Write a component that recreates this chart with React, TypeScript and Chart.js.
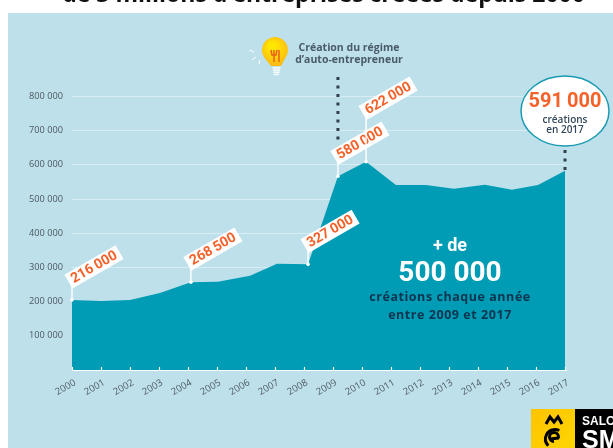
import React, { useEffect, useRef } from "react";
import { Chart, registerables } from "chart.js";

Chart.register(...registerables);

const years = [2000, 2001, 2002, 2003, 2004, 2005, 2006, 2007, 2008, 2009, 2010, 2011, 2012, 2013, 2014, 2015, 2016, 2017];
const pointDates = [2000, 2001, 2002, 2003.03, 2004.1, 2005.03, 2006.14, 2007.07, 2008.14, 2009.17, 2010.14, 2011.17, 2012.2, 2013.17, 2014.24, 2015.17, 2016.07, 2017];
const creations = [205000, 202000, 205000, 225000, 257000, 258000, 276000, 311000, 309000, 567000, 609000, 541000, 541000, 530000, 542000, 527000, 541000, 583000];

const calloutIndex = [0, 4, 8, 9, 10];
const calloutLabels = ["216\u2009000", "268\u2009500", "327\u2009000", "580\u2009000", "622\u2009000"];
const titleText = "de 3 millions d’entreprises créées depuis 2000";
const noteLines = ["Création du régime", "d’auto-entrepreneur"];
const bubbleLines = ["591\u2009000", "créations", "en 2017"];
const centerLines = ["+ de", "500 000", "créations chaque année", "entre 2009 et 2017"];

const PANEL = "#bde0ea";
const AREA = "#009bb4";
const ORANGE = "#f4622a";
const DOTS = "#2f3f4c";

function text(c: CanvasRenderingContext2D, s: string, x: number, y: number, font: string, color: string, align: CanvasTextAlign = "center", spacing = "0px") {
  c.font = font;
  c.fillStyle = color;
  c.textAlign = align;
  c.textBaseline = "middle";
  (c as any).letterSpacing = spacing;
  c.fillText(s, x, y);
  (c as any).letterSpacing = "0px";
}

function dotted(c: CanvasRenderingContext2D, x: number, y0: number, y1: number) {
  c.save();
  c.strokeStyle = DOTS;
  c.lineWidth = 3;
  c.setLineDash([3, 5.5]);
  c.beginPath();
  c.moveTo(x, y0);
  c.lineTo(x, y1);
  c.stroke();
  c.restore();
}

function drawBulb(c: CanvasRenderingContext2D) {
  c.save();
  const g = c.createRadialGradient(272, 46, 3, 275, 50, 15);
  g.addColorStop(0, "#ffe800");
  g.addColorStop(1, "#fdbb13");
  c.fillStyle = g;
  c.beginPath();
  c.arc(275, 50, 13, Math.PI * 0.8, Math.PI * 0.2);
  c.lineTo(281, 66);
  c.lineTo(271, 66);
  c.closePath();
  c.fill();
  c.fillStyle = "#f4f9f9";
  for (let i = 0; i < 4; i++) c.fillRect(272.5 + i * 0.4, 67 + i * 2.2, 8 - i * 0.8, 1.6);
  c.strokeStyle = "#e8601c";
  c.lineWidth = 1.5;
  c.beginPath();
  c.moveTo(271, 50); c.lineTo(272, 55); c.lineTo(276, 55); c.lineTo(277, 50);
  c.moveTo(274, 50); c.lineTo(274, 62);
  c.moveTo(279, 50); c.lineTo(279, 62);
  c.stroke();
  c.strokeStyle = "#ffffff";
  c.lineWidth = 1;
  c.beginPath();
  c.moveTo(249.5, 50); c.lineTo(254, 52);
  c.moveTo(252, 60); c.lineTo(256, 57);
  c.moveTo(259, 64); c.lineTo(260, 60);
  c.stroke();
  c.restore();
}

function drawLogo(c: CanvasRenderingContext2D) {
  c.save();
  c.beginPath();
  c.rect(0, 0, 613, 448);
  c.clip();
  const g = c.createLinearGradient(531, 409, 575, 448);
  g.addColorStop(0, "#fdc400");
  g.addColorStop(1, "#ffd500");
  c.fillStyle = g;
  c.fillRect(531, 409, 44, 39);
  c.fillStyle = "#000";
  c.fillRect(575, 409, 38, 39);
  c.strokeStyle = "#000";
  c.lineWidth = 3;
  c.beginPath();
  c.moveTo(546, 424); c.lineTo(550, 417); c.lineTo(554, 422); c.lineTo(558, 417); c.lineTo(562, 424);
  c.stroke();
  c.beginPath();
  c.moveTo(550, 439);
  c.lineTo(558, 438);
  c.arc(554, 437, 4.5, 0, -Math.PI * 1.5, true);
  c.stroke();
  c.beginPath();
  c.arc(555, 439, 9.5, -Math.PI * 0.35, Math.PI * 0.75, true);
  c.stroke();
  text(c, "SALON", 582, 422, "bold 12px 'Liberation Sans Narrow', 'Liberation Sans'", "#fff", "left");
  text(c, "SME", 582, 441, "bold 25px 'Liberation Sans Narrow', 'Liberation Sans'", "#fff", "left");
  c.restore();
}

const overlay = {
  id: "overlay",
  beforeDraw(chart: any) {
    const c = chart.ctx as CanvasRenderingContext2D;
    c.save();
    c.fillStyle = "#fff";
    c.fillRect(0, 0, 613, 448);
    c.fillStyle = PANEL;
    c.fillRect(8, 13, 605, 435);
    text(c, titleText, 323.5, -4.5, "bold 23px 'Open Sans'", "#111");
    c.restore();
  },
  afterDatasetsDraw(chart: any) {
    const c = chart.ctx as CanvasRenderingContext2D;
    const xs = chart.scales.x;
    const ys = chart.scales.y;
    c.save();

    c.strokeStyle = "#ffffff";
    c.lineWidth = 1.2;
    c.beginPath();
    c.moveTo(xs.left, ys.bottom + 0.5);
    c.lineTo(xs.right + 2, ys.bottom + 0.5);
    years.forEach((yr) => {
      const px = Math.round(xs.getPixelForValue(yr)) + 0.5;
      c.moveTo(px, ys.bottom);
      c.lineTo(px, ys.bottom - 3);
    });
    c.stroke();

    const pxOf = (i: number) => xs.getPixelForValue(pointDates[i]);
    const pyOf = (i: number) => ys.getPixelForValue(creations[i]);

    const i2009 = 9;
    dotted(c, pxOf(i2009), 77, 140);
    const last = creations.length - 1;
    dotted(c, pxOf(last), 150, pyOf(last) + 1);

    calloutIndex.forEach((idx, k) => {
      const px = pxOf(idx);
      const py = pyOf(idx);
      const tall = idx === 10;
      const stem = tall ? 44 : idx === 9 ? 14 : 15;
      c.strokeStyle = "#fff";
      c.lineWidth = 1.4;
      c.beginPath();
      c.moveTo(px, py);
      c.lineTo(px, py - stem);
      c.stroke();
      c.fillStyle = "#fff";
      c.beginPath();
      c.arc(px, py, 1.8, 0, Math.PI * 2);
      c.fill();
      c.save();
      c.translate(px + 22, py - (tall ? 63.5 : 33));
      c.rotate(-Math.PI / 6);
      c.fillStyle = "#fff";
      c.fillRect(-29.5, -8, 59, 16);
      text(c, calloutLabels[k], 0, 0.5, "bold 14px Roboto", ORANGE);
      c.restore();
    });

    c.fillStyle = "#fff";
    c.strokeStyle = "#1a9ab2";
    c.lineWidth = 1.5;
    c.beginPath();
    c.ellipse(565, 111, 44, 35, 0, 0, Math.PI * 2);
    c.fill();
    c.stroke();
    text(c, bubbleLines[0], 565, 102, "bold 20px Roboto", ORANGE);
    text(c, bubbleLines[1], 565, 120, "600 10px 'Open Sans'", "#33475a");
    text(c, bubbleLines[2], 565, 130.5, "600 10px 'Open Sans'", "#33475a");

    text(c, centerLines[0], 450, 246, "bold 18px Roboto", "#fff");
    text(c, centerLines[1], 450, 274, "bold 28px Roboto", "#fff");
    text(c, centerLines[2], 450, 297, "bold 12.5px 'Open Sans'", "#0d3550", "center", "0.55px");
    text(c, centerLines[3], 450, 315, "bold 12.5px 'Open Sans'", "#0d3550", "center", "0.55px");

    text(c, noteLines[0], 349, 48, "bold 10.5px 'Open Sans'", "#4a5a68");
    text(c, noteLines[1], 349, 60, "bold 10.5px 'Open Sans'", "#4a5a68");

    drawBulb(c);
    drawLogo(c);
    c.restore();
  },
};

export default function App() {
  const ref = useRef<HTMLCanvasElement>(null);
  useEffect(() => {
    if (!ref.current) return;
    const chart = new Chart(ref.current, {
      type: "line",
      data: {
        datasets: [
          {
            data: pointDates.map((x, i) => ({ x, y: creations[i] })),
            borderWidth: 0,
            pointRadius: 0,
            fill: "origin",
            backgroundColor: AREA,
            tension: 0,
          },
        ],
      },
      options: {
        responsive: false,
        animation: false,
        layout: { padding: { top: 96.5, right: 48, left: 0, bottom: 0 } },
        plugins: { legend: { display: false }, tooltip: { enabled: false } },
        scales: {
          x: {
            type: "linear",
            min: 2000,
            max: 2017,
            afterFit: (s: any) => { s.height = 78; },
            afterBuildTicks: (s: any) => { s.ticks = years.map((value) => ({ value })); },
            grid: { display: false, drawTicks: false },
            border: { display: false },
            ticks: {
              autoSkip: false,
              minRotation: 30,
              maxRotation: 30,
              padding: 7,
              labelOffset: 3,
              color: "#4e5862",
              font: { family: "'Open Sans'", size: 9.5 },
              callback: (v: any) => String(v),
            },
          },
          y: {
            min: 0,
            max: 800000,
            afterFit: (s: any) => { s.width = 72; },
            grid: { color: "#d8edf3", lineWidth: 1, drawTicks: false },
            border: { display: false },
            ticks: {
              stepSize: 100000,
              padding: 9,
              color: "#4e5862",
              font: { family: "'Open Sans'", size: 9.2 },
              callback: (v: any) => (v === 0 ? "" : `${v / 1000} 000`),
            },
          },
        },
      },
      plugins: [overlay],
    } as any);
    return () => chart.destroy();
  }, []);
  return (
    <canvas
      ref={ref}
      width={613}
      height={448}
      style={{ position: "fixed", left: 0, top: 0, display: "block", width: 613, height: 448 }}
    />
  );
}
